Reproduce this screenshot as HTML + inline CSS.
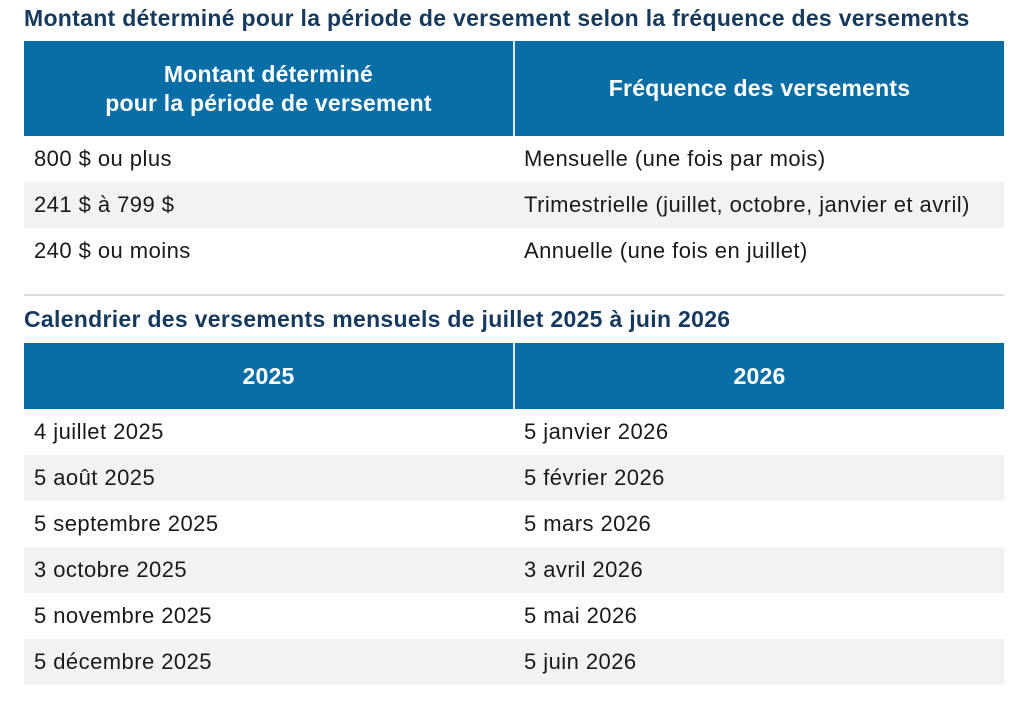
<!DOCTYPE html>
<html><head><meta charset="utf-8">
<style>
body{margin:0;width:1024px;height:709px;background:#fff;position:relative;overflow:hidden;font-family:"Liberation Sans",sans-serif;}
.title{position:absolute;left:24px;font-weight:bold;font-size:23px;letter-spacing:0.3px;color:#153a5c;white-space:nowrap;}
table{position:absolute;left:24px;width:980px;border-collapse:collapse;table-layout:fixed;}
th{background:#0a6ea6;color:#fff;font-weight:bold;font-size:23px;letter-spacing:0.2px;text-align:center;border-right:2px solid #dfe6ec;padding:0;line-height:29px;}
th:last-child{border-right:none;}
td{font-size:22px;letter-spacing:0.45px;color:#1a1a1a;height:46px;padding:0 0 0 10px;white-space:nowrap;}
tr.g td{background:#f2f2f2;}
.sep{position:absolute;left:24px;width:980px;top:294px;height:2px;background:#dcdcdc;}
</style></head><body>
<div class="title" style="top:5px">Montant déterminé pour la période de versement selon la fréquence des versements</div>
<table style="top:41px">
<tr style="height:95px"><th>Montant déterminé<br>pour la période de versement</th><th>Fréquence des versements</th></tr>
<tr><td>800 $ ou plus</td><td>Mensuelle (une fois par mois)</td></tr>
<tr class="g"><td>241 $ à 799 $</td><td>Trimestrielle (juillet, octobre, janvier et avril)</td></tr>
<tr><td>240 $ ou moins</td><td>Annuelle (une fois en juillet)</td></tr>
</table>
<div class="sep"></div>
<div class="title" style="top:306px">Calendrier des versements mensuels de juillet 2025 à juin 2026</div>
<table style="top:343px">
<tr style="height:66px"><th>2025</th><th>2026</th></tr>
<tr><td>4 juillet 2025</td><td>5 janvier 2026</td></tr>
<tr class="g"><td>5 août 2025</td><td>5 février 2026</td></tr>
<tr><td>5 septembre 2025</td><td>5 mars 2026</td></tr>
<tr class="g"><td>3 octobre 2025</td><td>3 avril 2026</td></tr>
<tr><td>5 novembre 2025</td><td>5 mai 2026</td></tr>
<tr class="g"><td>5 décembre 2025</td><td>5 juin 2026</td></tr>
</table>
</body></html>
